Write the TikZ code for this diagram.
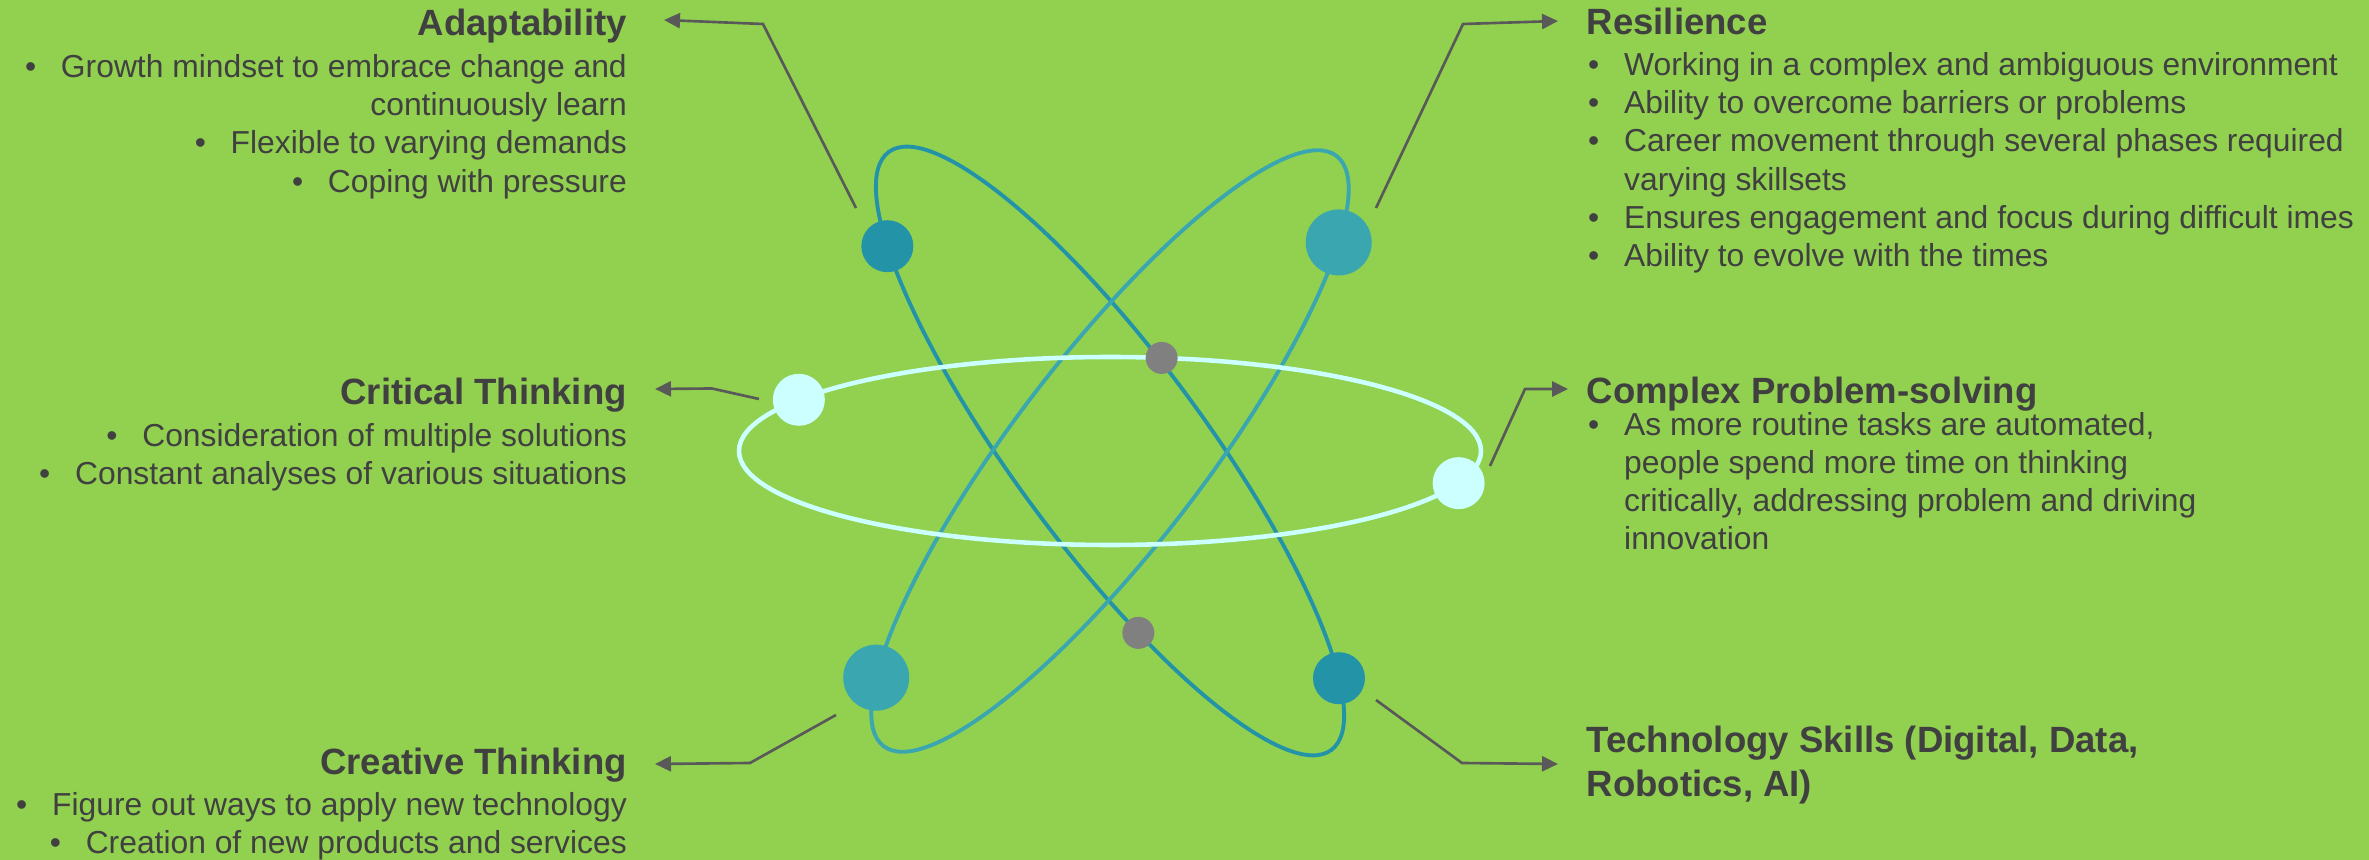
\documentclass[tikz,border=0pt]{standalone}
\usepackage{fontspec}
\setmainfont{Liberation Sans}
\usetikzlibrary{arrows.meta, positioning}

\definecolor{bggreen}{HTML}{92D050}
\definecolor{orbitdark}{HTML}{2394A8}
\definecolor{orbitlight}{HTML}{3AA6B0}
\definecolor{orbitwhite}{HTML}{CCFFFF}
\definecolor{nucleus}{HTML}{808080}
\definecolor{txtgray}{HTML}{404040}
\definecolor{leadgray}{HTML}{595959}

\newcommand{\bul}{\makebox[0.36cm][l]{\textbullet}}

\begin{document}
\begin{tikzpicture}[
    heading/.style={
        font=\fontsize{10.4}{12.5}\selectfont\bfseries,
        text=txtgray, inner sep=0pt
    },
    body_l/.style={
        font=\fontsize{9.05}{10.9}\selectfont,
        text=txtgray, inner sep=0pt, align=right
    },
    body_r/.style={
        font=\fontsize{9.05}{10.9}\selectfont,
        text=txtgray, inner sep=0pt, align=left
    },
    orbit/.style={line width=1.1pt},
    electron/.style={
        circle, inner sep=0pt, minimum size=#1
    },
    lead/.style={
        -{Triangle[length=0.16cm, width=0.15cm]},
        leadgray, line width=0.75pt
    }
]

%% ── Background ─────────────────────────────
\fill[bggreen] (0,0) rectangle (23.69,8.60);
\useasboundingbox (0,0) rectangle (23.69,8.60);

% ══════════════════════════════════════
%  ATOM
% ══════════════════════════════════════
\coordinate (atom) at (11.10,4.09);

% orbite inclinate
\foreach \ang/\col in {-53.5/orbitdark, 52.5/orbitlight}{
    \draw[orbit, \col, rotate around={\ang:(atom)}]
        (atom) ellipse [x radius=3.72, y radius=0.95];
}
% orbita orizzontale
\draw[orbit, orbitwhite, line width=1.3pt]
    (atom) ellipse [x radius=3.71, y radius=0.94];

% elettroni orbita scura
\begin{scope}[shift={(atom)}, rotate=-53.5]
    \node[electron=0.52cm, fill=orbitdark] (e_adapt) at (217:3.72 and 0.95) {};
    \node[electron=0.52cm, fill=orbitdark] (e_tech)  at (31:3.72 and 0.95) {};
    \node[electron=0.32cm, fill=nucleus]   (n_low)   at (296:3.72 and 0.95) {};
\end{scope}

% elettroni orbita chiara
\begin{scope}[shift={(atom)}, rotate=52.5]
    \node[electron=0.66cm, fill=orbitlight] (e_resil)  at (325:3.72 and 0.95) {};
    \node[electron=0.66cm, fill=orbitlight] (e_creat)  at (150:3.72 and 0.95) {};
\end{scope}

% elettroni orbita bianca
\begin{scope}[shift={(atom)}]
    \node[electron=0.52cm, fill=orbitwhite] (e_crit)  at (147:3.71 and 0.94) {};
    \node[electron=0.52cm, fill=orbitwhite] (e_compl) at (340:3.71 and 0.94) {};
    \node[electron=0.32cm, fill=nucleus]    (n_up)    at (82:3.71 and 0.94) {};
\end{scope}

% ══════════════════════════════════════
%  LEFT SIDE  (base = baseline of last line)
% ══════════════════════════════════════
\node[heading, anchor=base east] (adapt) at (6.275,8.24) {Adaptability};
\node[body_l, anchor=base east] (adapt_txt) at (6.275,6.677)
    {\bul Growth mindset to embrace change and\\
     continuously learn\\
     \bul Flexible to varying demands\\
     \bul Coping with pressure};

\node[heading, anchor=base east] (crit) at (6.275,4.55) {Critical Thinking};
\node[body_l, anchor=base east] (crit_txt) at (6.275,3.750)
    {\bul Consideration of multiple solutions\\
     \bul Constant analyses of various situations};

\node[heading, anchor=base east] (creat) at (6.275,0.85) {Creative Thinking};
\node[body_l, anchor=base east] (creat_txt) at (6.275,0.060)
    {\bul Figure out ways to apply new technology\\
     \bul Creation of new products and services};

% ══════════════════════════════════════
%  RIGHT SIDE
% ══════════════════════════════════════
\node[heading, anchor=base west] (resil) at (15.86,8.257) {Resilience};
\node[body_r, anchor=base west] (resil_txt) at (15.875,5.933)
    {\bul Working in a complex and ambiguous environment\\
     \bul Ability to overcome barriers or problems\\
     \bul Career movement through several phases required\\
     \hspace*{0.36cm}varying skillsets\\
     \bul Ensures engagement and focus during difficult imes\\
     \bul Ability to evolve with the times};

\node[heading, anchor=base west] (compl) at (15.86,4.56) {Complex Problem-solving};
\node[body_r, anchor=base west] (compl_txt) at (15.875,3.100)
    {\bul As more routine tasks are automated,\\
     \hspace*{0.36cm}people spend more time on thinking\\
     \hspace*{0.36cm}critically, addressing problem and driving\\
     \hspace*{0.36cm}innovation};

\node[heading, anchor=base west, align=left] (tech) at (15.86,0.634)
    {Technology Skills (Digital, Data,\\Robotics, AI)};

% ══════════════════════════════════════
%  LEADERS
% ══════════════════════════════════════
\coordinate (adapt_from) at (8.56,6.52);
\coordinate (adapt_bend) at (7.63,8.36);
\coordinate (adapt_to)   at ([xshift=0.365cm, yshift=0.16cm]adapt.base east);

\coordinate (resil_from) at (13.76,6.52);
\coordinate (resil_bend) at (14.63,8.36);
\coordinate (resil_to)   at (15.58,8.39);

\coordinate (crit_from)  at (7.59,4.61);
\coordinate (crit_bend)  at (7.12,4.715);
\coordinate (crit_to)    at ([xshift=0.275cm, yshift=0.16cm]crit.base east);

\coordinate (compl_from) at (14.90,3.94);
\coordinate (compl_bend) at (15.25,4.71);
\coordinate (compl_to)   at (15.68,4.71);

\coordinate (creat_from) at (8.36,1.45);
\coordinate (creat_bend) at (7.50,0.97);
\coordinate (creat_to)   at ([xshift=0.275cm, yshift=0.11cm]creat.base east);

\coordinate (tech_from)  at (13.76,1.60);
\coordinate (tech_bend)  at (14.62,0.97);
\coordinate (tech_to)    at (15.58,0.96);

\foreach \k in {adapt, resil, crit, compl, creat, tech}{
    \draw[lead] (\k_from) -- (\k_bend) -- (\k_to);
}

\end{tikzpicture}
\end{document}
